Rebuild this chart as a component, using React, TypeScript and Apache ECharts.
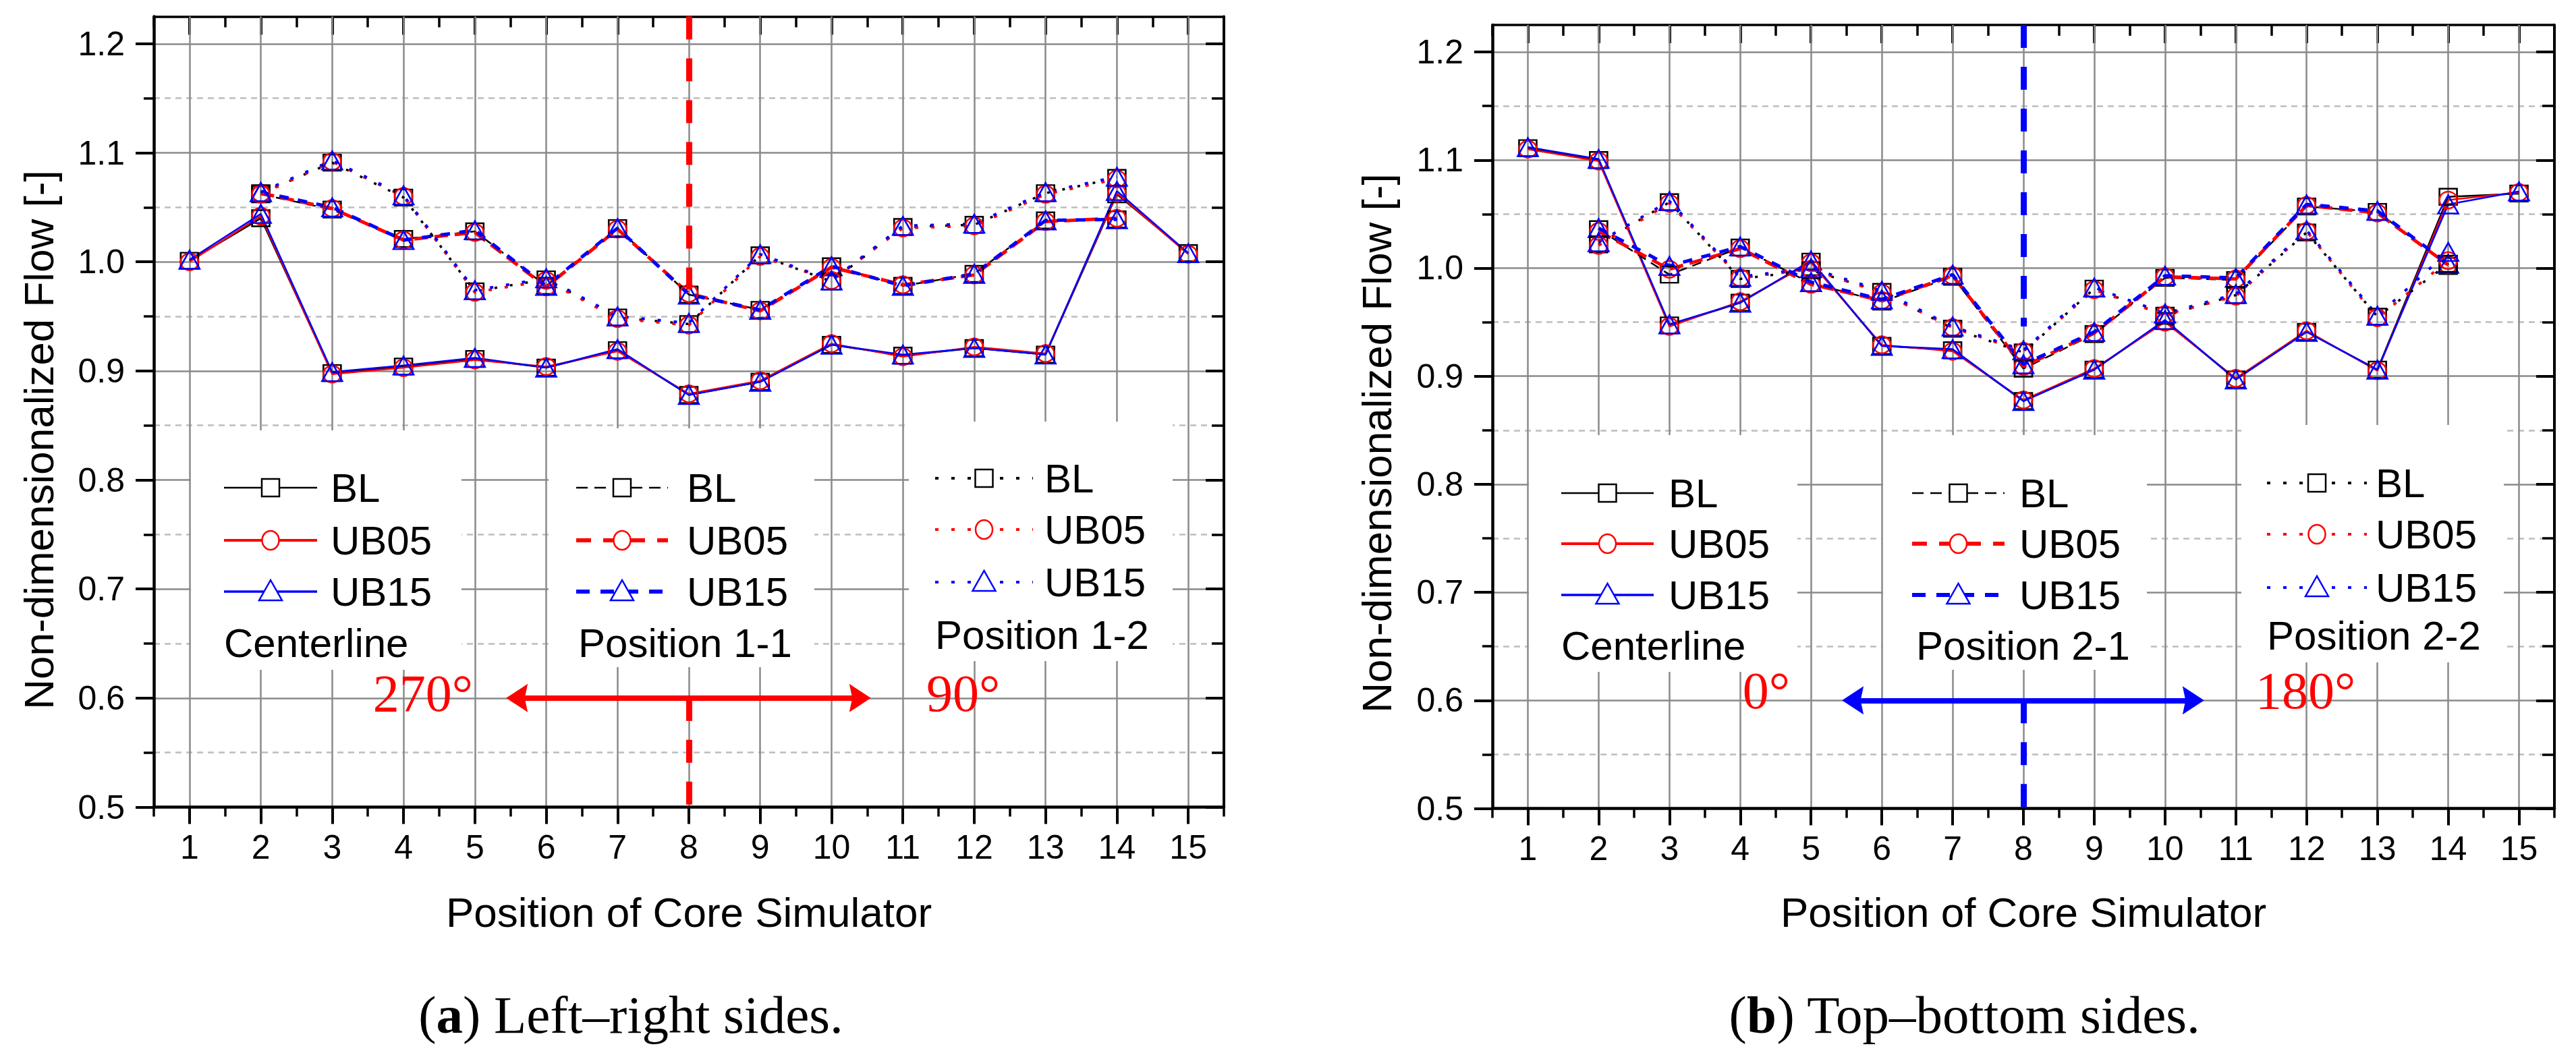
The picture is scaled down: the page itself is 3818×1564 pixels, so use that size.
import { useEffect, useRef } from "react";
import * as echarts from "echarts";

// x positions of the core simulator
const positions = [1, 2, 3, 4, 5, 6, 7, 8, 9, 10, 11, 12, 13, 14, 15];
const sidePositions = [2, 3, 4, 5, 6, 7, 8, 9, 10, 11, 12, 13, 14];
const halfPositions = [0.5, 1.5, 2.5, 3.5, 4.5, 5.5, 6.5, 7.5, 8.5, 9.5, 10.5, 11.5, 12.5, 13.5, 14.5, 15.5];
const yMajorTicks = [0.5, 0.6, 0.7, 0.8, 0.9, 1.0, 1.1, 1.2];
const yMinorTicks = [0.55, 0.65, 0.75, 0.85, 0.95, 1.05, 1.15];
const cases = ["BL", "UB05", "UB15"];

// (a) left-right sides
const aCenterBL = [1.001, 1.040, 0.898, 0.904, 0.911, 0.903, 0.919, 0.878, 0.890, 0.924, 0.914, 0.921, 0.915, 1.062, 1.008];
const aCenterUB05 = [1.000, 1.042, 0.897, 0.903, 0.910, 0.904, 0.918, 0.879, 0.891, 0.925, 0.913, 0.922, 0.916, 1.063, 1.007];
const aCenterUB15 = [1.002, 1.044, 0.899, 0.905, 0.912, 0.903, 0.920, 0.878, 0.890, 0.924, 0.915, 0.921, 0.915, 1.065, 1.008];
const a11BL = [1.062, 1.048, 1.021, 1.028, 0.978, 1.031, 0.970, 0.956, 0.996, 0.978, 0.989, 1.038, 1.039];
const a11UB05 = [1.063, 1.049, 1.020, 1.027, 0.977, 1.030, 0.971, 0.955, 0.995, 0.979, 0.988, 1.037, 1.040];
const a11UB15 = [1.064, 1.050, 1.020, 1.029, 0.978, 1.031, 0.970, 0.956, 0.996, 0.978, 0.989, 1.038, 1.039];
const a12BL = [1.063, 1.091, 1.059, 0.973, 0.984, 0.949, 0.943, 1.006, 0.982, 1.032, 1.034, 1.063, 1.077];
const a12UB05 = [1.062, 1.092, 1.060, 0.972, 0.983, 0.948, 0.942, 1.005, 0.983, 1.031, 1.033, 1.062, 1.076];
const a12UB15 = [1.064, 1.093, 1.061, 0.974, 0.985, 0.950, 0.944, 1.007, 0.983, 1.033, 1.035, 1.064, 1.078];

// (b) top-bottom sides
const bCenterBL = [1.111, 1.100, 0.947, 0.968, 1.006, 0.928, 0.924, 0.877, 0.906, 0.951, 0.897, 0.941, 0.906, 1.066, 1.069];
const bCenterUB05 = [1.110, 1.099, 0.946, 0.969, 1.005, 0.929, 0.923, 0.878, 0.907, 0.950, 0.898, 0.942, 0.905, 1.063, 1.070];
const bCenterUB15 = [1.112, 1.101, 0.948, 0.968, 1.007, 0.928, 0.925, 0.877, 0.906, 0.952, 0.897, 0.941, 0.906, 1.059, 1.071];
const b21BL = [1.036, 0.994, 1.019, 0.986, 0.969, 0.992, 0.907, 0.939, 0.991, 0.989, 1.057, 1.052, 1.002];
const b21UB05 = [1.034, 0.999, 1.018, 0.985, 0.970, 0.993, 0.909, 0.940, 0.992, 0.990, 1.058, 1.051, 1.003];
const b21UB15 = [1.037, 1.002, 1.020, 0.987, 0.971, 0.994, 0.911, 0.941, 0.993, 0.991, 1.059, 1.053, 1.004];
const b22BL = [1.022, 1.061, 0.990, 0.998, 0.978, 0.944, 0.922, 0.981, 0.956, 0.975, 1.033, 0.955, 1.004];
const b22UB05 = [1.021, 1.060, 0.991, 0.999, 0.977, 0.945, 0.923, 0.980, 0.957, 0.974, 1.034, 0.954, 1.007];
const b22UB15 = [1.024, 1.062, 0.992, 1.000, 0.979, 0.946, 0.924, 0.982, 0.958, 0.976, 1.035, 0.956, 1.015];

// annotation positions (data coordinates)
const dividerPosition = 8;
const aDividerSpans = [[1.225, 0.975], [0.6, 0.5]];
const bDividerSpans = [[1.225, 0.946], [0.6, 0.5]];
const arrowLevel = 0.6;
const arrowEnds = [5.59, 10.4];

const SANS = "Liberation Sans, Arial, sans-serif";
const SERIF = "Liberation Serif, Times New Roman, serif";
const RED = "#ff0000";
const BLUE = "#0000ff";
const ARROW_HEAD = "path://M50,0 L100,100 L50,86 L0,100 Z";
const caseColor: Record<string, string> = { BL: "#000000", UB05: RED, UB15: BLUE };
const caseSymbol: Record<string, string> = { BL: "rect", UB05: "circle", UB15: "triangle" };
const caseSymbolSize: Record<string, number[]> = { BL: [26, 24], UB05: [26, 25], UB15: [30, 27] };

const lineStyles: Record<string, Record<string, { width: number; type: any }>> = {
  solid: { BL: { width: 2.5, type: "solid" }, UB05: { width: 2.5, type: "solid" }, UB15: { width: 2.5, type: "solid" } },
  dashed: { BL: { width: 2.5, type: [14, 9] }, UB05: { width: 5, type: [20, 10] }, UB15: { width: 5, type: [14, 14] } },
  dotted: { BL: { width: 3.5, type: [4, 19] }, UB05: { width: 4, type: [5, 19] }, UB15: { width: 4, type: [5, 19] } },
};
const legendLine: Record<string, Record<string, { width: number; dash: number[] | null }>> = {
  solid: { BL: { width: 2.5, dash: null }, UB05: { width: 4, dash: null }, UB15: { width: 3.5, dash: null } },
  dashed: { BL: { width: 2.5, dash: [17, 10] }, UB05: { width: 6, dash: [22, 18] }, UB15: { width: 6, dash: [20, 16] } },
  dotted: { BL: { width: 4, dash: [5, 19] }, UB05: { width: 4, dash: [5, 19] }, UB15: { width: 4, dash: [5, 19] } },
};

function xAxesFor(grid: number) {
  const common = {
    type: "value", gridIndex: grid, min: 0.5, max: 15.5, silent: true,
    axisLine: { show: false, onZero: false }, axisLabel: { show: false }, splitLine: { show: false },
  };
  const tick = (width: number) => ({ color: "#000", width });
  return [
    {
      ...common, position: "bottom", z: 1.5,
      axisLine: { show: true, onZero: false, lineStyle: { color: "#000", width: 4.5 } },
      axisTick: { show: true, customValues: positions, length: 25, lineStyle: tick(4) },
      axisLabel: { show: true, customValues: positions, margin: 34, fontSize: 50, color: "#000", fontFamily: SANS },
      splitLine: { show: true, lineStyle: { color: "#8a8a8a", width: 2.5 } },
    },
    { ...common, position: "bottom", axisTick: { show: true, customValues: halfPositions, length: 14, lineStyle: tick(3.5) } },
    {
      ...common, position: "top",
      axisLine: { show: true, onZero: false, lineStyle: { color: "#000", width: 3.5 } },
      axisTick: { show: true, inside: true, customValues: positions, length: 27, lineStyle: tick(4) },
    },
    { ...common, position: "top", axisTick: { show: true, inside: true, customValues: halfPositions, length: 16, lineStyle: tick(3.5) } },
  ];
}

function yAxesFor(grid: number) {
  const common = {
    type: "value", gridIndex: grid, min: 0.5, max: 1.225, silent: true,
    axisLine: { show: false }, axisLabel: { show: false }, splitLine: { show: false },
  };
  const tick = (width: number) => ({ color: "#000", width });
  return [
    {
      ...common, position: "left",
      axisLine: { show: true, lineStyle: { color: "#000", width: 4.5 } },
      axisTick: { show: true, customValues: yMajorTicks, length: 27, lineStyle: tick(4) },
      axisLabel: {
        show: true, customValues: yMajorTicks, margin: 43, fontSize: 50, color: "#000", fontFamily: SANS,
        formatter: (v: number) => v.toFixed(1),
      },
      splitLine: { show: true, showMinLine: false, lineStyle: { color: "#8a8a8a", width: 2.5 } },
    },
    {
      ...common, position: "left",
      axisTick: { show: true, customValues: yMinorTicks, length: 15, lineStyle: tick(3.5) },
      splitLine: { show: true, lineStyle: { color: "#bdbdbd", width: 2.5, type: [9, 7] } },
    },
    {
      ...common, position: "right",
      axisLine: { show: true, lineStyle: { color: "#000", width: 4 } },
      axisTick: { show: true, inside: true, customValues: yMajorTicks, length: 27, lineStyle: tick(4) },
    },
    { ...common, position: "right", axisTick: { show: true, inside: true, customValues: yMinorTicks, length: 18, lineStyle: tick(3.5) } },
  ];
}

function lineSeries(panel: number, group: string, kind: string, caseName: string, xs: number[], ys: number[]) {
  const color = caseColor[caseName];
  const ls = lineStyles[kind][caseName];
  return {
    type: "line",
    name: `${caseName} ${group}`,
    xAxisIndex: panel * 4,
    yAxisIndex: panel * 4,
    data: xs.map((x, i) => [x, ys[i]]),
    symbol: caseSymbol[caseName],
    symbolSize: caseSymbolSize[caseName],
    showAllSymbol: true,
    silent: true,
    z: 3,
    lineStyle: { color, width: ls.width, type: ls.type },
    itemStyle: { color: "rgba(0,0,0,0)", borderColor: color, borderWidth: 2.5 },
    emphasis: { disabled: true },
  };
}

function panelSeries(
  panel: number,
  groups: { name: string; kind: string; xs: number[]; values: number[][] }[],
  color: string,
  dividerSpans: number[][],
) {
  const list: any[] = [];
  groups.forEach((g) => {
    cases.forEach((c, i) => list.push(lineSeries(panel, g.name, g.kind, c, g.xs, g.values[i])));
  });
  list[0].markLine = {
    silent: true, symbol: ["none", "none"], label: { show: false }, emphasis: { disabled: true },
    lineStyle: { color, width: 9, type: [34, 28], opacity: 1 },
    data: dividerSpans.map(([y0, y1]) => [{ coord: [dividerPosition, y0] }, { coord: [dividerPosition, y1] }]),
  };
  list[1].markLine = {
    silent: true, symbol: [ARROW_HEAD, ARROW_HEAD], symbolSize: [42, 32], label: { show: false }, emphasis: { disabled: true },
    lineStyle: { color, width: 8, type: "solid", opacity: 1 },
    data: [[{ coord: [arrowEnds[0], arrowLevel] }, { coord: [arrowEnds[1], arrowLevel] }]],
  };
  return list;
}

type LegendBox = {
  kind: string; title: string; x0: number; x1: number; y0: number; y1: number;
  sx0: number; sx1: number; tx: number; rows: number[]; titleX: number; titleY: number;
};

const legendBoxes: LegendBox[] = [
  { kind: "solid", title: "Centerline", x0: 283, x1: 684, y0: 638, y1: 993, sx0: 332, sx1: 470, tx: 490, rows: [723, 801, 877], titleX: 332, titleY: 953 },
  { kind: "dashed", title: "Position 1-1", x0: 813, x1: 1207, y0: 635, y1: 989, sx0: 854, sx1: 990, tx: 1018, rows: [723, 801, 877], titleX: 857, titleY: 953 },
  { kind: "dotted", title: "Position 1-2", x0: 1347, x1: 1738, y0: 625, y1: 980, sx0: 1386, sx1: 1531, tx: 1548, rows: [709, 785, 863], titleX: 1386, titleY: 941 },
  { kind: "solid", title: "Centerline", x0: 2266, x1: 2664, y0: 645, y1: 996, sx0: 2314, sx1: 2451, tx: 2473, rows: [731, 806, 882], titleX: 2314, titleY: 957 },
  { kind: "dashed", title: "Position 2-1", x0: 2791, x1: 3182, y0: 645, y1: 993, sx0: 2834, sx1: 2971, tx: 2993, rows: [731, 806, 882], titleX: 2840, titleY: 957 },
  { kind: "dotted", title: "Position 2-2", x0: 3322, x1: 3711, y0: 630, y1: 982, sx0: 3360, sx1: 3508, tx: 3521, rows: [716, 792, 871], titleX: 3360, titleY: 942 },
];

function legendSymbol(caseName: string, cx: number, cy: number) {
  const style = { fill: "#ffffff", stroke: caseColor[caseName], lineWidth: 2.5 };
  if (caseName === "BL") {
    return { type: "rect", z: 51, shape: { x: cx - 13, y: cy - 13, width: 26, height: 26 }, style };
  }
  if (caseName === "UB05") {
    return { type: "ellipse", z: 51, shape: { cx, cy, rx: 12.5, ry: 14 }, style };
  }
  return { type: "polygon", z: 51, shape: { points: [[cx, cy - 17], [cx - 17, cy + 13], [cx + 17, cy + 13]] }, style };
}

function legendGraphics(box: LegendBox) {
  const els: any[] = [
    {
      type: "rect", z: 50, silent: true,
      shape: { x: box.x0, y: box.y0, width: box.x1 - box.x0, height: box.y1 - box.y0 },
      style: { fill: "#ffffff" },
    },
  ];
  const cx = (box.sx0 + box.sx1) / 2;
  cases.forEach((c, i) => {
    const y = box.rows[i];
    const ls = legendLine[box.kind][c];
    els.push({
      type: "line", z: 51, silent: true,
      shape: { x1: box.sx0, y1: y, x2: box.sx1, y2: y },
      style: { stroke: caseColor[c], lineWidth: ls.width, lineDash: ls.dash || undefined },
    });
    els.push(legendSymbol(c, cx, y));
    els.push({
      type: "text", z: 52, silent: true, x: box.tx, y,
      style: { text: c, fontSize: 60, fontFamily: SANS, fill: "#000", align: "left", verticalAlign: "middle" },
    });
  });
  els.push({
    type: "text", z: 52, silent: true, x: box.titleX, y: box.titleY,
    style: { text: box.title, fontSize: 60, fontFamily: SANS, fill: "#000", align: "left", verticalAlign: "middle" },
  });
  return els;
}

function textEl(text: string, x: number, y: number, font: string, size: number, fill: string, align: string, extra: any = {}) {
  return {
    type: "text", z: 60, silent: true, x, y, ...extra,
    style: { text, fontSize: size, fontFamily: font, fill, align, verticalAlign: "middle" },
  };
}

const option: any = {
  animation: false,
  backgroundColor: "#ffffff",
  textStyle: { fontFamily: SANS },
  grid: [
    { left: 228, top: 24.5, width: 1586, height: 1172, show: false, outerBoundsMode: "none" },
    { left: 2212, top: 37, width: 1574, height: 1161.5, show: false, outerBoundsMode: "none" },
  ],
  xAxis: [...xAxesFor(0), ...xAxesFor(1)],
  yAxis: [...yAxesFor(0), ...yAxesFor(1)],
  series: [
    ...panelSeries(
      0,
      [
        { name: "Centerline", kind: "solid", xs: positions, values: [aCenterBL, aCenterUB05, aCenterUB15] },
        { name: "Position 1-1", kind: "dashed", xs: sidePositions, values: [a11BL, a11UB05, a11UB15] },
        { name: "Position 1-2", kind: "dotted", xs: sidePositions, values: [a12BL, a12UB05, a12UB15] },
      ],
      RED,
      aDividerSpans,
    ),
    ...panelSeries(
      1,
      [
        { name: "Centerline", kind: "solid", xs: positions, values: [bCenterBL, bCenterUB05, bCenterUB15] },
        { name: "Position 2-1", kind: "dashed", xs: sidePositions, values: [b21BL, b21UB05, b21UB15] },
        { name: "Position 2-2", kind: "dotted", xs: sidePositions, values: [b22BL, b22UB05, b22UB15] },
      ],
      BLUE,
      bDividerSpans,
    ),
  ],
  graphic: {
    elements: [
      ...legendBoxes.flatMap(legendGraphics),
      // angle annotations
      textEl("270°", 701, 1027, SERIF, 78, RED, "right"),
      textEl("90°", 1373, 1027, SERIF, 78, RED, "left"),
      textEl("0°", 2653, 1023, SERIF, 78, RED, "right"),
      textEl("180°", 3343, 1023, SERIF, 78, RED, "left"),
      // axis titles
      textEl("Non-dimensionalized Flow [-]", 57, 652, SANS, 62, "#000", "center", { rotation: Math.PI / 2 }),
      textEl("Non-dimensionalized Flow [-]", 2040, 657, SANS, 62, "#000", "center", { rotation: Math.PI / 2 }),
      textEl("Position of Core Simulator", 1021, 1352, SANS, 62, "#000", "center"),
      textEl("Position of Core Simulator", 2999, 1352, SANS, 62, "#000", "center"),
      // captions
      {
        type: "text", z: 60, silent: true, x: 935, y: 1504,
        style: {
          text: "({b|a}) Left–right sides.", fontSize: 79, fontFamily: SERIF, fill: "#000", align: "center", verticalAlign: "middle",
          rich: { b: { fontSize: 79, fontFamily: SERIF, fontWeight: "bold", fill: "#000" } },
        },
      },
      {
        type: "text", z: 60, silent: true, x: 2912, y: 1504,
        style: {
          text: "({b|b}) Top–bottom sides.", fontSize: 79, fontFamily: SERIF, fill: "#000", align: "center", verticalAlign: "middle",
          rich: { b: { fontSize: 79, fontFamily: SERIF, fontWeight: "bold", fill: "#000" } },
        },
      },
    ],
  },
};

export default function App() {
  const chartRef = useRef<HTMLDivElement>(null);

  useEffect(() => {
    if (!chartRef.current) return;
    const chart = echarts.init(chartRef.current, undefined, { renderer: "svg" });
    chart.setOption(option);
    return () => {
      chart.dispose();
    };
  }, []);

  return (
    <div
      ref={chartRef}
      style={{ position: "fixed", left: 0, top: 0, width: 3818, height: 1564, background: "#ffffff" }}
    />
  );
}
